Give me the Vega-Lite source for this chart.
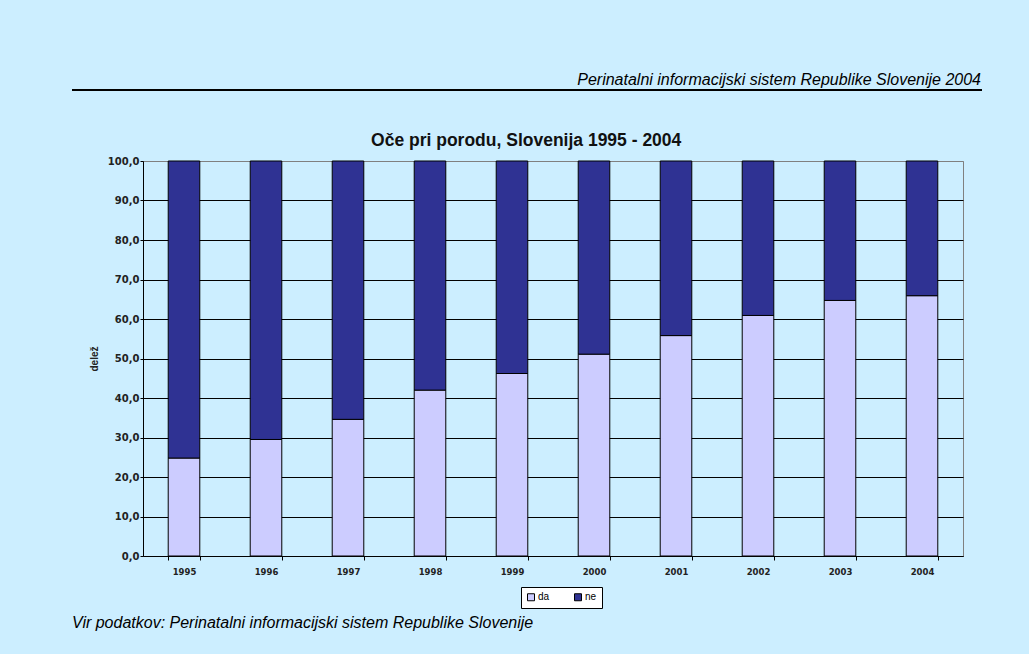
{
  "$schema": "https://vega.github.io/schema/vega-lite/v6.json",
  "background": "#CCEEFF",
  "autosize": {"type": "pad"},
  "padding": {"left": 72, "top": 71, "right": 60, "bottom": 40},
  "title": {
    "text": "Vir podatkov: Perinatalni informacijski sistem Republike Slovenije",
    "orient": "bottom",
    "anchor": "start",
    "frame": "bounds",
    "font": "Liberation Sans",
    "fontSize": 16,
    "fontStyle": "italic",
    "fontWeight": "normal",
    "color": "black",
    "offset": 6
  },
  "config": {
    "font": "Liberation Sans",
    "view": {"stroke": null}
  },
  "spacing": 39,
  "vconcat": [
    {
      "width": 908,
      "height": 0.01,
      "view": {"stroke": "black", "strokeWidth": 2},
      "title": {
        "text": "Perinatalni informacijski sistem Republike Slovenije 2004",
        "anchor": "end",
        "frame": "group",
        "font": "Liberation Sans",
        "fontSize": 16,
        "fontStyle": "italic",
        "fontWeight": "normal",
        "color": "black",
        "offset": 2
      },
      "data": {"values": []},
      "mark": "point",
      "encoding": {}
    },
    {
      "spacing": 0,
      "hconcat": [
        {
          "width": 15,
          "height": 0.01,
          "view": {"stroke": null},
          "data": {"values": []},
          "mark": "point",
          "encoding": {}
        },
        {
          "width": 820,
          "height": 395,
          "view": {"stroke": "#808080", "strokeWidth": 1},
          "title": {
            "text": "Oče pri porodu, Slovenija 1995 - 2004",
            "anchor": "middle",
            "frame": "bounds",
            "font": "Liberation Sans",
            "fontSize": 17.5,
            "fontWeight": "bold",
            "color": "#111111",
            "offset": 7
          },
          "data": {
            "values": [
              {"leto": "1995", "odgovor": "da", "delez": 24.8},
              {"leto": "1995", "odgovor": "ne", "delez": 75.2},
              {"leto": "1996", "odgovor": "da", "delez": 29.5},
              {"leto": "1996", "odgovor": "ne", "delez": 70.5},
              {"leto": "1997", "odgovor": "da", "delez": 34.6},
              {"leto": "1997", "odgovor": "ne", "delez": 65.4},
              {"leto": "1998", "odgovor": "da", "delez": 42.0},
              {"leto": "1998", "odgovor": "ne", "delez": 58.0},
              {"leto": "1999", "odgovor": "da", "delez": 46.2},
              {"leto": "1999", "odgovor": "ne", "delez": 53.8},
              {"leto": "2000", "odgovor": "da", "delez": 51.1},
              {"leto": "2000", "odgovor": "ne", "delez": 48.9},
              {"leto": "2001", "odgovor": "da", "delez": 55.8},
              {"leto": "2001", "odgovor": "ne", "delez": 44.2},
              {"leto": "2002", "odgovor": "da", "delez": 60.9},
              {"leto": "2002", "odgovor": "ne", "delez": 39.1},
              {"leto": "2003", "odgovor": "da", "delez": 64.7},
              {"leto": "2003", "odgovor": "ne", "delez": 35.3},
              {"leto": "2004", "odgovor": "da", "delez": 65.9},
              {"leto": "2004", "odgovor": "ne", "delez": 34.1}
            ]
          },
          "mark": {"type": "bar", "stroke": "black", "strokeWidth": 1},
          "encoding": {
            "x": {
              "field": "leto",
              "type": "ordinal",
              "scale": {"paddingInner": 0.615, "paddingOuter": 0.3075},
              "axis": {
                "title": null,
                "labelAngle": 0,
                "tickBand": "extent",
                "tickSize": 4,
                "tickColor": "black",
                "domainColor": "black",
                "labelFont": "DejaVu Sans",
                "labelFontWeight": "bold",
                "labelFontSize": 8.5,
                "labelColor": "#222222",
                "labelPadding": 7,
                "grid": false
              }
            },
            "y": {
              "field": "delez",
              "type": "quantitative",
              "stack": "zero",
              "scale": {"domain": [0, 100], "nice": false},
              "axis": {
                "title": "delež",
                "titleFont": "Liberation Sans",
                "titleFontSize": 10,
                "titleFontWeight": "bold",
                "titleColor": "#222222",
                "titlePadding": 8,
                "values": [0, 10, 20, 30, 40, 50, 60, 70, 80, 90, 100],
                "labelExpr": "replace(format(datum.value, '.1f'), '.', ',')",
                "labelFont": "DejaVu Sans",
                "labelFontWeight": "bold",
                "labelFontSize": 10,
                "labelColor": "#222222",
                "labelPadding": 1,
                "tickSize": 3,
                "tickColor": "black",
                "domainColor": "black",
                "grid": true,
                "gridColor": {"condition": {"test": "datum.value === 100", "value": "#808080"}, "value": "black"},
                "gridOpacity": 1
              }
            },
            "order": {"field": "odgovor", "sort": "ascending"},
            "color": {
              "field": "odgovor",
              "type": "nominal",
              "scale": {"domain": ["da", "ne"], "range": ["#CCCCFF", "#2F3293"]},
              "legend": {
                "title": null,
                "orient": "none",
                "legendX": 448,
                "legendY": 497,
                "direction": "horizontal",
                "fillColor": "white",
                "strokeColor": "black",
                "padding": 5,
                "symbolType": "square",
                "symbolSize": 49,
                "symbolStrokeColor": "black",
                "symbolStrokeWidth": 1,
                "labelFont": "Liberation Sans",
                "labelFontSize": 10,
                "labelColor": "black",
                "labelOffset": 2,
                "columnPadding": 22
              }
            }
          }
        }
      ]
    }
  ]
}
